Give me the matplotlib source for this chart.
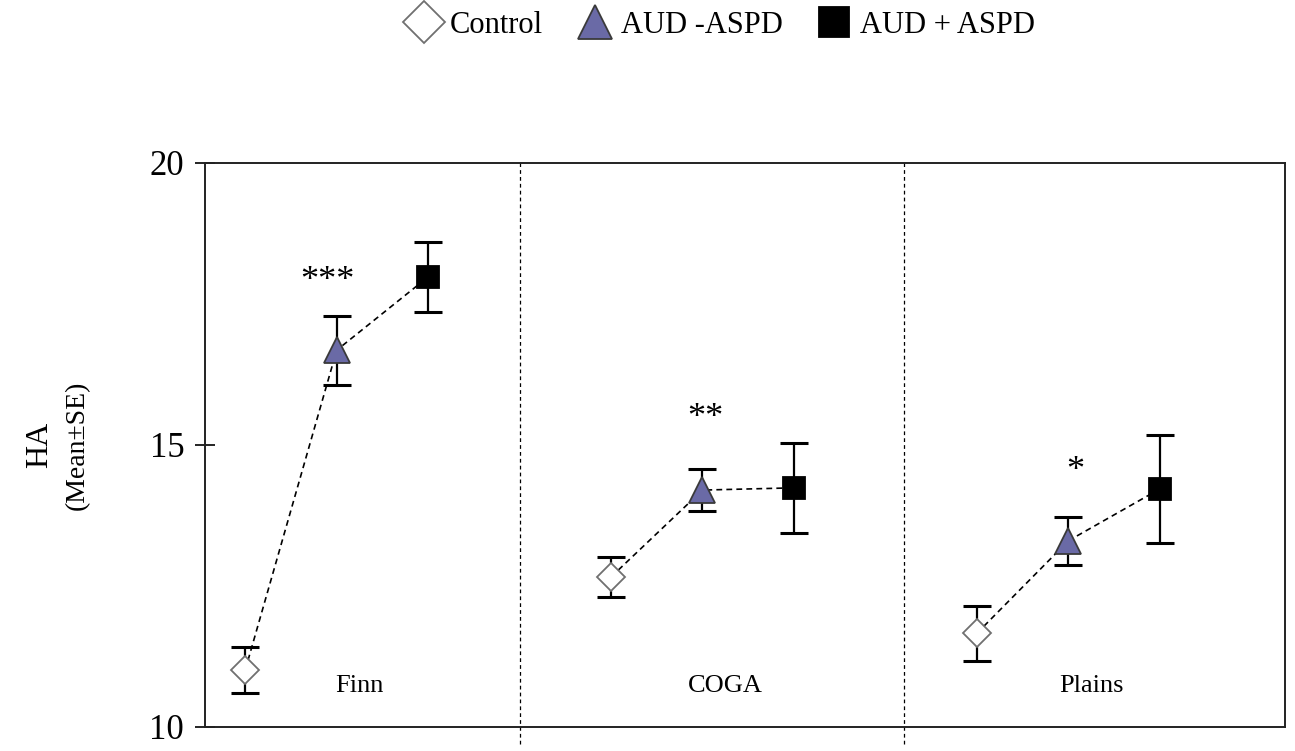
import numpy as np
import matplotlib
matplotlib.use("Agg")
import matplotlib.pyplot as plt
from matplotlib.lines import Line2D

plt.rcParams['font.family'] = ['Liberation Serif', 'DejaVu Serif']

#%% data
groups = ['Finn', 'COGA', 'Plains']
series = ['Control', 'AUD -ASPD', 'AUD + ASPD']
x_pos = [[1, 2, 3], [5, 6, 7], [9, 10, 11]]
means = [[11.01, 16.68, 17.98],
         [12.66, 14.20, 14.24],
         [11.66, 13.30, 14.22]]
se = [[0.40, 0.61, 0.62],
      [0.36, 0.37, 0.80],
      [0.49, 0.43, 0.95]]
stars = ['***', '**', '*']
star_x = [1.9, 6.03, 10.08]
star_y = [17.75, 15.32, 14.37]
label_y = 10.73

#%% styles
mk = ['D', '^', 's']
mfc = ['white', '#6A6AA6', 'black']
mec = ['#707070', '#3a3a3a', 'black']
msz = [14, 19, 16]

fig = plt.figure(figsize=(12.95, 7.51), dpi=100)
ax = fig.add_axes([0.1583, 0.032, 0.834, 0.751])

for g in range(3):
    xs = x_pos[g]
    ax.plot(xs, means[g], color='black', lw=1.2, ls=(0, (3.5, 2.5)), zorder=2)
    for s in range(3):
        ax.errorbar(xs[s], means[g][s], yerr=se[g][s], fmt='none', ecolor='black',
                    elinewidth=1.6, capsize=10, capthick=2.2, zorder=1)
        ax.plot(xs[s], means[g][s], marker=mk[s], ms=msz[s], mfc=mfc[s], mec=mec[s],
                mew=1.3, ls='none', zorder=3)
    ax.text(star_x[g], star_y[g], stars[g], ha='center', va='baseline', fontsize=26)
    ax.text(xs[1] + 0.25, label_y, groups[g], ha='center', va='center', fontsize=19)

for xv in [4.0, 8.2]:
    ax.axvline(xv, ymin=-0.03, ymax=1, color='black', lw=0.9, ls=(0, (3, 2.5)), clip_on=False)

ax.set_xlim(0.56, 12.37)
ax.set_ylim(10, 20)
ax.set_yticks([10, 15, 20])
ax.set_xticks([])
ax.tick_params(axis='y', direction='inout', length=14, width=1.2, labelsize=25, pad=8)
for sp in ax.spines.values():
    sp.set_linewidth(1.4)
    sp.set_color('#222222')

# y label as two lines of different size
fig.text(40 / 1295, 1 - 445 / 751, 'HA', rotation=90, ha='center', va='center', fontsize=23)
fig.text(77 / 1295, 1 - 445 / 751, '(Mean±SE)', rotation=90, ha='center', va='center', fontsize=20)

handles = [Line2D([], [], marker=mk[i], ms=[21, 24, 21][i], mfc=mfc[i], mec=mec[i], mew=1.3, ls='none')
           for i in range(3)]
fig.legend(handles, series, loc='upper center', bbox_to_anchor=(0.555, 1.022), ncol=3,
           frameon=False, fontsize=22, handletextpad=0.15, columnspacing=1.0, handlelength=1.4)

fig.savefig('out.png', dpi=100)
